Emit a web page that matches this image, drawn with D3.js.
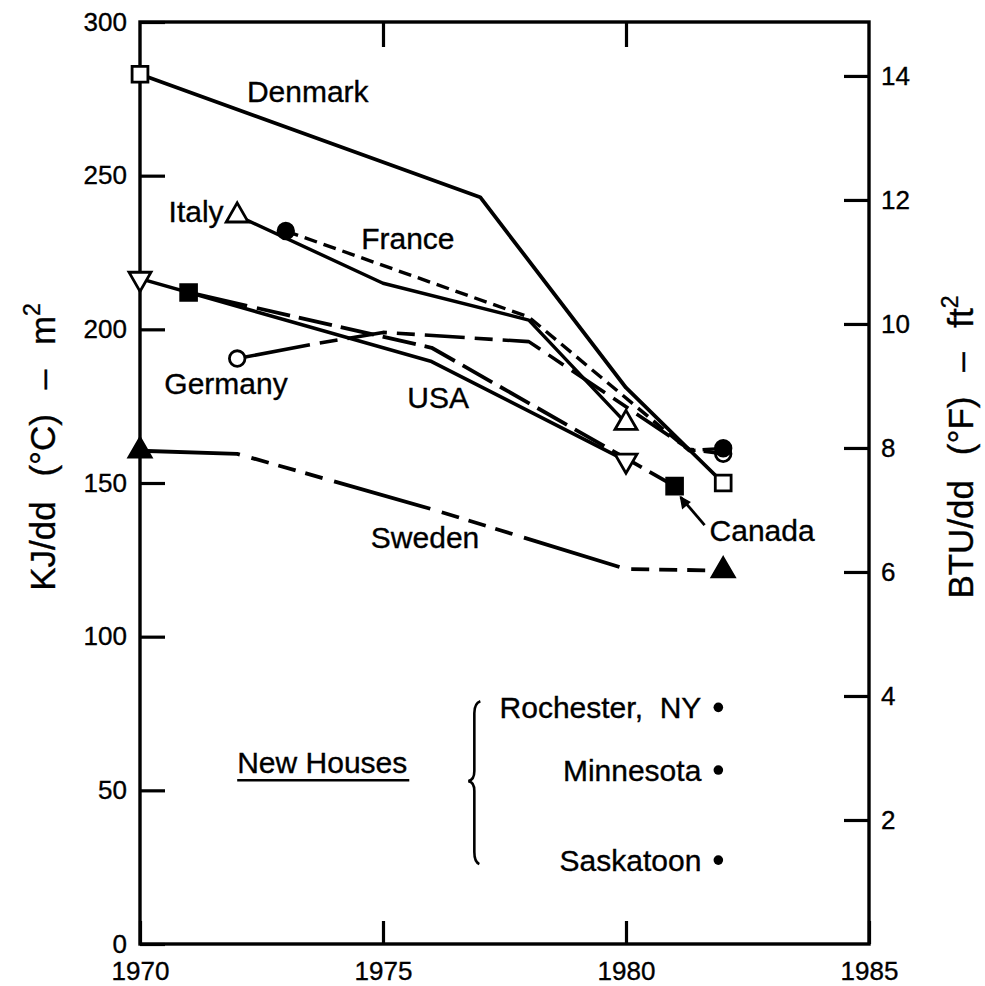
<!DOCTYPE html>
<html>
<head>
<meta charset="utf-8">
<script src="https://cdn.jsdelivr.net/npm/d3@7"></script>
<style>
  body { margin: 0; background: #fff; }
  svg { display: block; }
  text { font-family: "Liberation Sans", Arial, Helvetica, sans-serif; fill: #000; stroke: #000; stroke-width: 0.35px; }
</style>
</head>
<body>
<div id="chart"></div>
<script>
// tick values
var yearTicks = [1970, 1975, 1980, 1985];
var kjTicks = [0, 50, 100, 150, 200, 250, 300];
var btuTicks = [2, 4, 6, 8, 10, 12, 14];

// series, [year, KJ/dd(C)-m2]
var denmark = [[1970, 283], [1977, 243], [1980, 181], [1982, 150]];
var italy = [[1972, 237], [1975, 215], [1978, 203], [1980, 169.5]];
var france = [[1973, 232], [1978, 204], [1981.3, 160.5], [1982, 161.3]];
var germany = [[1972, 190.5], [1973.5, 195], [1975, 199], [1978, 196], [1981.3, 161], [1982, 159.5]];
var usa = [[1970, 216.5], [1976, 189.5], [1980, 157.3]];
var canada = [[1971, 212], [1976, 194], [1980, 158], [1981, 149]];
var sweden = [[1970, 160.5], [1972, 159.5], [1976, 141.5], [1980, 122], [1982, 121.5]];

// new houses, single points
var newHouseNames = ["Rochester,  NY", "Minnesota", "Saskatoon"];
var newHouseValues = [77, 56.6, 27.3];
var newHouseYear = 1981.9;

function rep(s, n) { return Array(n).fill(s).join(","); }

// styles per series (built from the arrays above)
var series = [
  {name: "Denmark", data: denmark, dash: null, marker: "square", fill: "#fff", w: 3.8},
  {name: "Italy", data: italy, dash: null, marker: "triUp", fill: "#fff", w: 3.4},
  {name: "Germany", data: germany, dash: "74,10," + rep("18,10,40,10", 8), marker: "circle", fill: "#fff", w: 3.6},
  {name: "France", data: france, dash: "13,7", marker: "circle", fill: "#000", w: 3.4},
  {name: "Canada", data: canada, dash: "60,10," + rep("34,9", 14), marker: "square", fill: "#000", w: 3.8},
  {name: "USA", data: usa, dash: null, marker: "triDown", fill: "#fff", w: 3.6},
  {name: "Sweden", data: sweden, dash: "100,12,18,10,18,10,18,12", marker: "triUp", fill: "#000", w: 3.8}
];

var svgWidth = 985, svgHeight = 986;
var margin = {top: 22, right: 116, bottom: 42, left: 140};
var width = svgWidth - margin.left - margin.right;
var height = svgHeight - margin.top - margin.bottom;

var svg = d3.select("#chart").append("svg")
  .attr("width", svgWidth)
  .attr("height", svgHeight);

var g = svg.append("g")
  .attr("transform", `translate(${margin.left}, ${margin.top})`);

var x = d3.scaleLinear().domain([1970, 1985]).range([0, width]);
var y = d3.scaleLinear().domain([0, 300]).range([height, 0]);
// 1 BTU/dd(F)-ft2 drawn as ~20.17 KJ/dd(C)-m2
var yR = d3.scaleLinear().domain([0, 14.87]).range([height, 0]);

// axes, ticks pointing inward
var bottomAxis = d3.axisBottom(x).tickValues(yearTicks).tickSize(-23).tickSizeOuter(0).tickPadding(18).tickFormat(d3.format("d"));
var topAxis = d3.axisTop(x).tickValues([1975, 1980]).tickSize(-25).tickSizeOuter(0).tickFormat("");
var leftAxis = d3.axisLeft(y).tickValues(kjTicks).tickSize(-25).tickSizeOuter(0).tickPadding(13);
var rightAxis = d3.axisRight(yR).tickValues(btuTicks).tickSize(-25).tickSizeOuter(0).tickPadding(12);

g.append("g").attr("transform", `translate(0, ${height})`).call(bottomAxis);
g.append("g").call(topAxis);
g.append("g").call(leftAxis);
g.append("g").attr("transform", `translate(${width}, 0)`).call(rightAxis);

g.selectAll(".domain").remove();
g.selectAll(".tick line").attr("stroke", "#000").attr("stroke-width", 3.2);
g.selectAll(".tick text").style("font-size", "26px").attr("fill", "#000");

// frame
g.append("rect")
  .attr("x", 0).attr("y", 0)
  .attr("width", width).attr("height", height)
  .attr("fill", "none")
  .attr("stroke", "#000")
  .attr("stroke-width", 3.4);

// axis titles
var leftTitle = svg.append("text")
  .attr("transform", `translate(55, ${margin.top + height / 2 - 36}) rotate(-90)`)
  .attr("text-anchor", "middle")
  .style("font-size", "35px")
  .style("word-spacing", "15px");
leftTitle.append("tspan").text("KJ/dd (°C) – m");
leftTitle.append("tspan").attr("dy", -15).style("font-size", "23px").text("2");

var rightTitle = svg.append("text")
  .attr("transform", `translate(973, ${margin.top + height / 2 - 36}) rotate(-90)`)
  .attr("text-anchor", "middle")
  .style("font-size", "35px")
  .style("word-spacing", "15px");
rightTitle.append("tspan").text("BTU/dd (°F) – ft");
rightTitle.append("tspan").attr("dy", -15).style("font-size", "23px").text("2");

// lines
var line = d3.line().x(d => x(d[0])).y(d => y(d[1]));

g.selectAll(".series")
  .data(series)
  .enter()
  .append("path")
  .attr("class", "series")
  .attr("d", d => line(d.data))
  .attr("fill", "none")
  .attr("stroke", "#000")
  .attr("stroke-width", d => d.w)
  .attr("stroke-linejoin", "round")
  .attr("stroke-dasharray", d => d.dash);

// markers at both ends of each series
var symbols = {
  square: d3.symbol().type(d3.symbolSquare).size(250),
  circle: d3.symbol().type(d3.symbolCircle).size(190),
  triUp: d3.symbol().type(d3.symbolTriangle).size(210)
};

var markerData = [];
series.forEach(function(s) {
  [s.data[0], s.data[s.data.length - 1]].forEach(function(p) {
    markerData.push({p: p, marker: s.marker, fill: s.fill});
  });
});

g.selectAll(".marker")
  .data(markerData)
  .enter()
  .append("path")
  .attr("class", "marker")
  .attr("d", d => (d.marker === "triDown" ? symbols.triUp : symbols[d.marker])())
  .attr("transform", d => `translate(${x(d.p[0])}, ${y(d.p[1])})` + (d.marker === "triDown" ? " rotate(180)" : ""))
  .attr("fill", d => d.fill)
  .attr("stroke", "#000")
  .attr("stroke-width", 2.8);

// series labels
var labels = [
  {text: "Denmark", year: 1972.2, val: 274, anchor: "start"},
  {text: "Italy", year: 1971.72, val: 235, anchor: "end"},
  {text: "France", year: 1974.55, val: 226, anchor: "start"},
  {text: "Germany", year: 1970.5, val: 179, anchor: "start"},
  {text: "USA", year: 1975.5, val: 174.5, anchor: "start"},
  {text: "Sweden", year: 1974.75, val: 129, anchor: "start"},
  {text: "Canada", year: 1981.72, val: 131, anchor: "start"}
];

g.selectAll(".label")
  .data(labels)
  .enter()
  .append("text")
  .attr("class", "label")
  .attr("x", d => x(d.year))
  .attr("y", d => y(d.val))
  .attr("text-anchor", d => d.anchor)
  .style("font-size", "30px")
  .text(d => d.text);

// Canada pointer with small arrow head
var cEnd = canada[canada.length - 1];
var px = x(cEnd[0]) + 6, py = y(cEnd[1]) + 11;
g.append("line")
  .attr("x1", px).attr("y1", py)
  .attr("x2", px + 24).attr("y2", py + 28)
  .attr("stroke", "#000").attr("stroke-width", 2.8);
g.append("path")
  .attr("d", `M${px},${py} l2,11 l7,-6 z`)
  .attr("fill", "#000").attr("stroke", "#000").attr("stroke-width", 1.5);

// new houses block
var nhX = x(1972.0);
var nh = g.append("text")
  .attr("x", nhX)
  .attr("y", y(55.5))
  .style("font-size", "30px")
  .text("New Houses");
var nhLen = nh.node().getComputedTextLength();
g.append("line")
  .attr("x1", nhX).attr("x2", nhX + nhLen + 2)
  .attr("y1", y(53.3)).attr("y2", y(53.3))
  .attr("stroke", "#000").attr("stroke-width", 2.4);

// brace
var bx = x(1976.9), bTop = y(79), bMid = y(53), bBot = y(26);
g.append("path")
  .attr("d", `M${bx + 5},${bTop} q-6,2 -6,12 L${bx - 1},${bMid - 10} q0,9 -6,10 q6,1 6,10 L${bx - 1},${bBot - 12} q0,10 5,12`)
  .attr("fill", "none")
  .attr("stroke", "#000")
  .attr("stroke-width", 2.6);

g.selectAll(".housedot")
  .data(newHouseValues)
  .enter()
  .append("circle")
  .attr("class", "housedot")
  .attr("cx", x(newHouseYear))
  .attr("cy", d => y(d))
  .attr("r", 4.8)
  .attr("fill", "#000");

g.selectAll(".houselabel")
  .data(newHouseNames)
  .enter()
  .append("text")
  .attr("class", "houselabel")
  .attr("x", x(newHouseYear) - 17)
  .attr("y", (d, i) => y(newHouseValues[i]) + 11)
  .attr("text-anchor", "end")
  .style("font-size", "30px")
  .style("white-space", "pre")
  .text(d => d);
</script>
</body>
</html>
